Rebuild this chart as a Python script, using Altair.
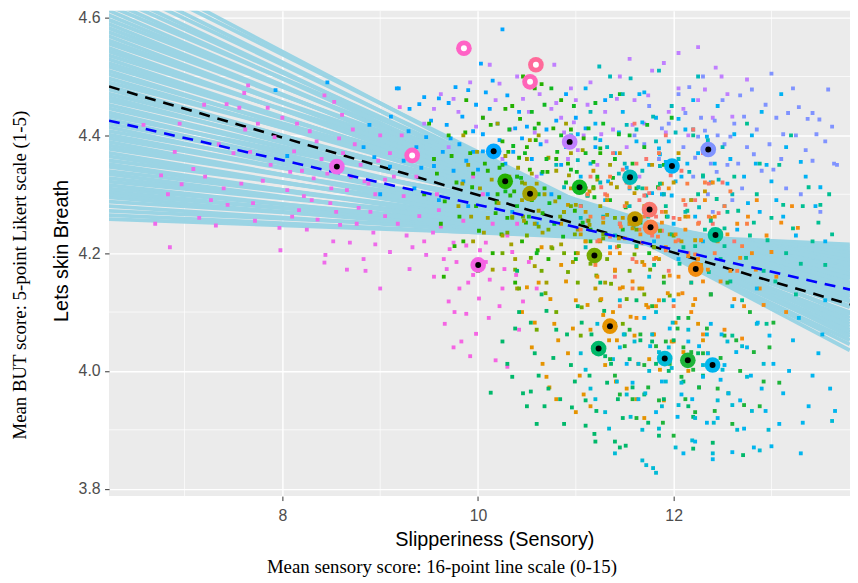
import altair as alt
import pandas as pd

# ---------------- axes ----------------
x_major = [8, 10, 12]
x_minor = [7, 9, 11, 13]
y_major = [3.8, 4.0, 4.2, 4.4, 4.6]
y_minor = [3.9, 4.1, 4.3, 4.5]
x_domain = [6.228, 13.803]
y_domain = [3.7874, 4.6118]

x_title = "Slipperiness (Sensory)"
y_title = "Lets skin Breath"
outer_y_label = ["Mean BUT score: 5-point Likert scale (1-5)"]
outer_x_label = ["Mean sensory score: 16-point line scale (0-15)"]

# ---------------- posterior regression lines (y at left / right ends) ----------------
band_x = [6.2, 13.8]
band_left_y = [4.258, 4.265, 4.272, 4.280, 4.288, 4.295, 4.300, 4.305, 4.310, 4.316,
               4.322, 4.328, 4.335, 4.340, 4.347, 4.352, 4.358, 4.365, 4.371, 4.378,
               4.384, 4.390, 4.396, 4.402, 4.408, 4.415, 4.421, 4.428, 4.434, 4.440,
               4.447, 4.453, 4.460, 4.466, 4.472, 4.479, 4.485, 4.491, 4.498, 4.505,
               4.511, 4.518, 4.524, 4.531, 4.537, 4.544, 4.550, 4.557, 4.563, 4.570,
               4.577, 4.584, 4.591, 4.598, 4.606, 4.614, 4.622, 4.631, 4.640, 4.650,
               4.661, 4.673, 4.686, 4.700]
band_right_y = [4.212, 4.205, 4.215, 4.198, 4.208, 4.190, 4.202, 4.185, 4.196, 4.178,
                4.200, 4.188, 4.170, 4.192, 4.181, 4.165, 4.195, 4.175, 4.160, 4.186,
                4.170, 4.150, 4.178, 4.162, 4.188, 4.145, 4.170, 4.155, 4.182, 4.140,
                4.162, 4.150, 4.172, 4.135, 4.158, 4.145, 4.125, 4.165, 4.138, 4.150,
                4.118, 4.142, 4.128, 4.110, 4.148, 4.120, 4.100, 4.132, 4.108, 4.090,
                4.118, 4.098, 4.080, 4.110, 4.085, 4.070, 4.095, 4.062, 4.075, 4.052,
                4.066, 4.045, 4.058, 4.035]

# ---------------- summary fit lines ----------------
fit_x = [6.228, 13.803]
fit_black_y = [4.483, 4.113]
fit_blue_y = [4.425, 4.138]

# ---------------- group means (rings) ----------------
ring_x = [9.856, 10.592, 10.532, 9.327, 8.557, 10.002, 10.160, 10.937, 12.354, 11.983,
          10.278, 10.532, 11.038, 11.554, 11.754, 11.605, 11.764, 12.428, 11.190, 12.226,
          11.349, 11.233, 11.909, 12.145, 12.398]
ring_y = [4.548, 4.520, 4.491, 4.366, 4.347, 4.180, 4.373, 4.389, 4.376, 4.348,
          4.322, 4.301, 4.312, 4.329, 4.274, 4.258, 4.244, 4.231, 4.196, 4.173,
          4.076, 4.038, 4.021, 4.018, 4.010]
ring_color = ["#FF63C6", "#FF6A9A", "#FF64B8", "#FF62C8", "#EE6AEA", "#F564E3", "#00A5FF",
              "#C07FFF", "#8093FF", "#00B2F3", "#24B000", "#A3A000", "#10B820", "#00B9B9",
              "#F8766D", "#C29A00", "#FA8046", "#00BF92", "#74AA00", "#F28C10", "#E59300",
              "#00B86A", "#00BAD6", "#1EB43A", "#00B5EE"]
ring_center = ["white", "white", "white", "white", "black", "black", "black", "black",
               "black", "black", "black", "black", "black", "black", "black", "black",
               "black", "black", "black", "black", "black", "black", "black", "black", "black"]

# ---------------- individual observations per group ----------------
pts_magL = ("6.58,4.418 6.70,4.250 6.76,4.332 6.83,4.300 6.90,4.372 6.97,4.317 7.09,4.343 7.21,4.330 "
            "7.20,4.452 7.32,4.247 7.27,4.290 7.43,4.453 7.44,4.282 7.56,4.447 7.65,4.485 7.61,4.472 "
            "7.58,4.318 7.67,4.372 7.70,4.285 7.75,4.420 7.80,4.323 7.85,4.447 7.92,4.397 7.97,4.243 "
            "7.98,4.205 8.05,4.307 8.08,4.338 8.12,4.373 8.17,4.273 8.22,4.297 8.28,4.407 8.32,4.327 "
            "8.36,4.257 8.43,4.468 8.44,4.197 8.49,4.285 8.53,4.457 8.59,4.248 8.61,4.435 8.66,4.307 "
            "8.69,4.218 8.74,4.385 8.78,4.277 8.83,4.190 8.88,4.318 8.93,4.235 8.98,4.357 9.05,4.263 "
            "9.10,4.202 9.14,4.330 9.20,4.448 9.24,4.297 9.27,4.230 9.30,4.173 9.37,4.330 9.40,4.263 "
            "9.47,4.197 9.54,4.235 9.60,4.273 9.68,4.173 9.75,4.218 8.40,4.360 8.50,4.310 8.62,4.370 "
            "8.70,4.330 8.80,4.350 8.95,4.300 8.35,4.390 8.72,4.410 8.90,4.270 9.00,4.400 8.55,4.270 "
            "8.20,4.340 9.10,4.370 7.50,4.370 7.40,4.310 6.95,4.420 6.85,4.210 7.15,4.260 8.00,4.430 "
            "7.88,4.350 8.43,4.184 8.66,4.172 8.85,4.170 9.00,4.140 8.25,4.240 8.15,4.420 8.58,4.395 "
            "8.84,4.322 9.18,4.250 9.33,4.210 8.76,4.250 8.46,4.335 8.30,4.290 9.05,4.325 7.35,4.385 "
            "7.72,4.255 8.95,4.215 9.22,4.400 9.45,4.300 8.52,4.220 8.10,4.262 7.62,4.410")
pts_magR = ("9.70,4.118 9.75,4.040 9.81,4.140 9.88,4.097 9.95,4.163 10.01,4.123 10.08,4.218 10.18,4.018 "
            "10.25,4.140 10.30,4.007 10.35,4.202 10.39,4.163 10.46,4.118 9.78,4.185 10.27,4.173 9.88,4.213 "
            "10.08,4.185 9.71,4.207 10.11,4.090 9.98,4.063 9.62,4.245 9.85,4.255 10.15,4.250 10.52,4.185 "
            "10.60,4.140 9.55,4.160 9.92,4.025 10.42,4.070 9.66,4.080 10.20,4.285 9.45,4.220 10.05,4.300 "
            "9.95,4.330 10.30,4.230 9.58,4.300 9.90,4.150 10.12,4.155 9.76,4.100 10.22,4.110 10.02,4.205 "
            "9.65,4.190 10.40,4.250 9.83,4.050")
pts_blue1 = ("10.25,4.580 10.03,4.522 9.19,4.480 9.11,4.432 9.40,4.453 9.45,4.465 9.60,4.463 9.70,4.455 "
             "9.77,4.482 9.90,4.477 9.98,4.452 10.08,4.473 10.15,4.493 10.30,4.468 10.42,4.440 9.47,4.397 "
             "9.29,4.407 9.37,4.380 9.68,4.418 9.81,4.385 9.95,4.407 10.05,4.373 9.24,4.357 9.55,4.348 "
             "9.75,4.340 9.88,4.357 10.40,4.330 10.55,4.360 10.70,4.410 10.85,4.350 11.00,4.430 11.20,4.380 "
             "10.35,4.270 10.60,4.250 10.10,4.300 9.90,4.280 10.90,4.470 11.30,4.460 8.89,4.418 8.94,4.363 "
             "9.10,4.347 9.17,4.480 7.93,4.477 8.46,4.490 8.05,4.365 8.83,4.380 9.00,4.300 9.35,4.310 "
             "10.45,4.395 10.20,4.420 9.60,4.290 10.75,4.300 10.28,4.352 10.05,4.402 10.38,4.412 9.85,4.322 "
             "9.30,4.445 9.52,4.425 9.64,4.372 9.84,4.432 10.00,4.342 10.12,4.445 10.22,4.392 10.36,4.372 "
             "10.50,4.415 10.64,4.385 10.80,4.425 10.96,4.392 11.10,4.412 9.42,4.345 9.72,4.395 9.95,4.372 "
             "10.30,4.315 10.65,4.335")
pts_purple = ("9.45,4.420 9.62,4.470 9.80,4.440 9.92,4.490 10.05,4.430 10.18,4.460 10.33,4.410 10.40,4.500 "
              "10.52,4.440 10.63,4.470 10.70,4.390 10.78,4.520 10.85,4.430 10.92,4.360 11.00,4.460 11.08,4.400 "
              "11.15,4.490 11.22,4.350 11.30,4.440 11.38,4.410 11.45,4.500 11.52,4.380 11.60,4.460 11.70,4.420 "
              "11.78,4.510 11.85,4.370 11.95,4.440 12.05,4.480 12.15,4.400 12.25,4.460 12.40,4.430 12.55,4.470 "
              "10.25,4.360 10.60,4.330 11.10,4.310 10.95,4.480 11.55,4.530 12.25,4.550 12.05,4.540 11.65,4.330 "
              "9.70,4.380 10.12,4.520 11.90,4.523 12.43,4.515 12.49,4.500 10.88,4.405 11.02,4.375 10.80,4.455 "
              "9.55,4.445 9.75,4.462 9.98,4.415 10.22,4.488 10.46,4.462 10.58,4.405 10.75,4.445 10.98,4.422 "
              "11.12,4.452 11.26,4.402 11.42,4.462 11.58,4.418 11.74,4.468 11.92,4.405 12.10,4.445 12.32,4.478 "
              "12.60,4.432 12.75,4.495")
pts_violet = ("11.60,4.400 11.75,4.450 11.85,4.360 11.95,4.420 12.05,4.470 12.16,4.482 12.10,4.380 12.20,4.330 "
              "12.28,4.430 12.35,4.300 12.45,4.400 12.50,4.460 12.55,4.350 12.62,4.420 12.68,4.468 12.70,4.310 "
              "12.75,4.380 12.80,4.478 12.85,4.410 12.90,4.340 12.98,4.385 13.00,4.505 13.05,4.430 13.10,4.360 "
              "13.17,4.438 13.22,4.480 13.25,4.400 13.30,4.300 13.37,4.428 13.42,4.438 13.42,4.357 13.49,4.427 "
              "13.55,4.390 13.58,4.478 13.64,4.352 13.67,4.350 12.40,4.270 12.60,4.290 13.15,4.310 12.30,4.500 "
              "11.90,4.300 13.50,4.270 12.38,4.352 12.25,4.398 12.52,4.385 12.42,4.425 11.70,4.385 11.88,4.412 "
              "12.00,4.348 12.12,4.438 12.22,4.362 12.32,4.408 12.44,4.338 12.58,4.398 12.66,4.352 12.72,4.432 "
              "12.82,4.368 12.94,4.452 13.02,4.342 13.12,4.402 13.28,4.448 13.35,4.375 13.46,4.402 13.62,4.415")
pts_blue2 = ("10.90,4.380 11.05,4.330 11.20,4.420 11.30,4.290 11.40,4.370 11.48,4.440 11.55,4.310 11.62,4.390 "
             "11.70,4.270 11.75,4.350 11.82,4.430 11.88,4.300 11.95,4.390 12.00,4.250 12.08,4.330 12.12,4.410 "
             "12.18,4.290 12.25,4.370 12.30,4.220 12.38,4.320 12.45,4.450 12.52,4.280 12.58,4.360 12.65,4.240 "
             "12.72,4.330 12.80,4.400 12.88,4.270 12.95,4.350 13.05,4.290 13.15,4.380 13.25,4.230 13.35,4.330 "
             "13.45,4.280 13.55,4.220 11.65,4.470 12.20,4.460 12.90,4.440 11.35,4.210 12.05,4.190 13.10,4.470 "
             "11.10,4.480 11.80,4.220 11.70,4.473 11.92,4.355 12.02,4.322 11.85,4.378 11.02,4.402 11.15,4.352 "
             "11.25,4.392 11.33,4.322 11.44,4.405 11.52,4.345 11.60,4.262 11.68,4.422 11.78,4.302 11.86,4.368 "
             "11.98,4.298 12.05,4.428 12.14,4.352 12.22,4.262 12.34,4.398 12.42,4.352 12.55,4.318 12.62,4.402 "
             "12.76,4.285 12.84,4.352 13.00,4.322 13.12,4.262 13.30,4.355 13.50,4.312")
pts_green1 = ("9.45,4.300 9.55,4.360 9.62,4.250 9.70,4.400 9.78,4.320 9.85,4.220 9.92,4.370 9.98,4.280 "
              "10.05,4.430 10.10,4.340 10.15,4.200 10.20,4.300 10.25,4.390 10.30,4.260 10.35,4.450 10.40,4.330 "
              "10.45,4.220 10.50,4.380 10.55,4.290 10.62,4.420 10.68,4.310 10.72,4.190 10.80,4.360 10.88,4.270 "
              "10.95,4.410 11.05,4.320 11.15,4.240 11.25,4.370 9.65,4.160 10.00,4.170 10.38,4.150 10.85,4.460 "
              "9.88,4.460 10.58,4.480 11.00,4.200 9.50,4.420 10.65,4.487 10.46,4.500 10.22,4.345 10.33,4.298 "
              "10.12,4.375 10.42,4.362 9.95,4.335 10.18,4.268 9.58,4.335 9.66,4.288 9.73,4.365 9.81,4.262 "
              "9.87,4.405 9.94,4.312 10.01,4.238 10.07,4.352 10.13,4.418 10.19,4.286 10.24,4.232 10.31,4.372 "
              "10.37,4.305 10.43,4.428 10.49,4.252 10.53,4.342 10.59,4.392 10.66,4.268 10.71,4.338 10.77,4.412 "
              "10.83,4.295 10.92,4.352 10.99,4.272 11.08,4.395 11.18,4.312 9.76,4.212 10.28,4.445 10.61,4.205")
pts_olive = ("9.80,4.280 9.90,4.350 9.95,4.220 10.02,4.310 10.10,4.260 10.18,4.380 10.25,4.230 10.32,4.330 "
             "10.38,4.190 10.45,4.290 10.50,4.360 10.58,4.250 10.62,4.400 10.68,4.300 10.75,4.210 10.80,4.340 "
             "10.88,4.270 10.95,4.370 11.02,4.240 11.10,4.310 11.18,4.200 11.25,4.280 11.35,4.350 11.45,4.250 "
             "10.40,4.140 10.70,4.150 10.90,4.420 10.20,4.420 9.85,4.400 11.30,4.150 10.48,4.318 10.62,4.272 "
             "10.55,4.335 10.35,4.262 9.84,4.318 9.93,4.262 9.99,4.372 10.06,4.235 10.14,4.325 10.21,4.285 "
             "10.28,4.365 10.34,4.215 10.41,4.345 10.47,4.255 10.53,4.392 10.60,4.318 10.66,4.235 10.72,4.362 "
             "10.79,4.288 10.85,4.215 10.93,4.332 11.00,4.282 11.07,4.375 11.14,4.248 11.22,4.325 11.32,4.265 "
             "11.42,4.312 10.15,4.172 10.58,4.178 10.97,4.185")
pts_green2 = ("10.25,4.350 10.32,4.410 10.40,4.280 10.48,4.370 10.55,4.440 10.62,4.300 10.70,4.360 10.78,4.250 "
              "10.85,4.400 10.90,4.320 10.98,4.450 11.05,4.280 11.10,4.370 11.15,4.220 11.22,4.330 11.28,4.420 "
              "11.35,4.290 11.40,4.360 11.48,4.240 11.55,4.400 11.62,4.310 11.70,4.380 11.80,4.270 11.90,4.350 "
              "11.98,4.430 10.60,4.200 11.00,4.190 11.45,4.470 10.75,4.480 11.75,4.200 11.12,4.298 10.95,4.342 "
              "11.18,4.355 10.28,4.305 10.36,4.382 10.44,4.328 10.52,4.262 10.58,4.412 10.66,4.338 10.73,4.285 "
              "10.81,4.372 10.87,4.228 10.94,4.392 11.01,4.338 11.07,4.252 11.13,4.412 11.19,4.295 11.25,4.378 "
              "11.31,4.232 11.38,4.328 11.44,4.402 11.51,4.278 11.58,4.352 11.66,4.252 11.73,4.418 11.84,4.312 "
              "11.93,4.262 10.68,4.452 11.20,4.455")
pts_teal = ("10.80,4.350 10.95,4.400 11.05,4.260 11.15,4.440 11.25,4.320 11.32,4.380 11.40,4.230 11.48,4.470 "
            "11.55,4.280 11.62,4.410 11.68,4.340 11.75,4.250 11.82,4.390 11.90,4.300 11.98,4.450 12.05,4.360 "
            "12.12,4.270 12.20,4.410 12.30,4.330 12.40,4.240 12.50,4.380 12.60,4.300 11.35,4.500 11.85,4.510 "
            "11.10,4.210 12.25,4.500 11.24,4.517 11.56,4.497 11.36,4.467 11.50,4.352 11.64,4.312 10.88,4.312 "
            "11.02,4.358 11.12,4.298 11.20,4.395 11.28,4.262 11.44,4.335 11.52,4.418 11.59,4.245 11.72,4.298 "
            "11.79,4.432 11.86,4.348 11.94,4.262 12.02,4.405 12.16,4.338 12.26,4.278 12.35,4.392 12.46,4.325")
pts_salmon = ("11.05,4.280 11.15,4.330 11.22,4.220 11.30,4.300 11.38,4.370 11.45,4.250 11.52,4.320 11.58,4.190 "
              "11.65,4.290 11.72,4.360 11.78,4.230 11.85,4.310 11.92,4.400 12.00,4.260 12.08,4.340 12.15,4.200 "
              "12.22,4.290 12.30,4.370 12.40,4.250 12.50,4.320 12.62,4.220 11.40,4.160 11.95,4.170 12.20,4.410 "
              "11.60,4.420 11.82,4.262 11.70,4.298 11.12,4.255 11.26,4.312 11.35,4.228 11.48,4.342 11.55,4.262 "
              "11.62,4.352 11.68,4.218 11.75,4.302 11.88,4.238 11.97,4.332 12.05,4.222 12.12,4.282 12.26,4.252 "
              "12.36,4.318 12.46,4.268")
pts_gold = ("10.85,4.250 10.95,4.310 11.02,4.200 11.10,4.270 11.18,4.340 11.25,4.220 11.32,4.290 11.40,4.170 "
            "11.48,4.260 11.55,4.330 11.62,4.210 11.70,4.280 11.78,4.350 11.85,4.190 11.92,4.270 12.00,4.320 "
            "12.08,4.220 12.18,4.290 12.28,4.180 12.38,4.260 11.20,4.140 11.65,4.140 11.45,4.370 12.05,4.370 "
            "11.58,4.242 11.52,4.285 10.92,4.282 11.05,4.232 11.14,4.305 11.28,4.252 11.36,4.318 11.44,4.225 "
            "11.60,4.302 11.68,4.185 11.75,4.252 11.88,4.318 11.96,4.232 12.12,4.262 12.22,4.222 12.32,4.305")
pts_orangered = ("11.05,4.240 11.12,4.300 11.20,4.180 11.28,4.260 11.35,4.330 11.42,4.210 11.50,4.280 11.58,4.140 "
                 "11.65,4.240 11.72,4.310 11.80,4.190 11.88,4.270 11.95,4.350 12.02,4.220 12.10,4.290 12.18,4.150 "
                 "12.25,4.250 12.32,4.320 12.42,4.200 12.52,4.280 12.65,4.170 12.75,4.250 11.45,4.110 12.00,4.110 "
                 "11.85,4.370 11.84,4.228 11.70,4.262 11.15,4.262 11.24,4.222 11.32,4.298 11.46,4.245 11.55,4.312 "
                 "11.62,4.185 11.76,4.272 11.92,4.205 12.06,4.258 12.14,4.318 12.22,4.198 12.36,4.262 12.48,4.235 "
                 "12.58,4.305 12.70,4.212")
pts_tealgreen = ("11.55,4.250 11.68,4.310 11.80,4.180 11.92,4.280 12.02,4.350 12.10,4.210 12.18,4.150 12.25,4.300 "
                 "12.32,4.240 12.40,4.380 12.48,4.190 12.55,4.270 12.62,4.330 12.70,4.120 12.78,4.230 12.85,4.300 "
                 "12.92,4.170 13.00,4.260 13.08,4.350 13.15,4.200 13.25,4.130 13.32,4.280 13.42,4.220 13.55,4.180 "
                 "12.60,4.060 12.95,4.080 12.20,4.400 13.20,4.400 11.90,4.120 12.75,4.420 13.59,4.300 13.50,4.282 "
                 "12.38,4.255 12.52,4.212 11.62,4.212 11.74,4.262 11.86,4.318 11.98,4.232 12.06,4.182 12.14,4.272 "
                 "12.22,4.212 12.30,4.332 12.36,4.168 12.44,4.292 12.52,4.242 12.58,4.152 12.66,4.272 12.74,4.192 "
                 "12.82,4.252 12.88,4.352 12.96,4.222 13.04,4.152 13.12,4.282 13.22,4.242 13.30,4.182 13.38,4.312 "
                 "13.48,4.252 13.62,4.232")
pts_ygreen = ("10.25,4.200 10.35,4.260 10.42,4.140 10.50,4.230 10.58,4.300 10.65,4.170 10.72,4.240 10.80,4.100 "
              "10.88,4.200 10.95,4.280 11.02,4.150 11.10,4.220 11.18,4.310 11.25,4.120 11.32,4.190 11.40,4.260 "
              "11.48,4.080 11.55,4.170 11.62,4.240 11.70,4.130 11.80,4.210 11.90,4.160 12.00,4.230 10.60,4.070 "
              "11.05,4.060 10.45,4.320 11.15,4.182 11.28,4.225 10.30,4.235 10.38,4.172 10.46,4.262 10.54,4.192 "
              "10.62,4.245 10.69,4.132 10.76,4.208 10.84,4.262 10.92,4.168 10.99,4.232 11.06,4.108 11.13,4.255 "
              "11.21,4.162 11.28,4.232 11.36,4.148 11.44,4.212 11.52,4.122 11.60,4.198 11.66,4.262 11.76,4.172 "
              "11.86,4.238 11.96,4.128")
pts_orange1 = ("11.35,4.200 11.45,4.140 11.55,4.250 11.62,4.090 11.70,4.180 11.78,4.270 11.85,4.120 11.92,4.210 "
               "12.00,4.050 12.05,4.160 12.12,4.240 12.18,4.100 12.25,4.190 12.32,4.290 12.38,4.130 12.45,4.220 "
               "12.52,4.070 12.58,4.170 12.65,4.250 12.72,4.110 12.80,4.200 12.88,4.140 12.95,4.230 13.05,4.160 "
               "13.15,4.100 12.40,4.320 11.95,4.310 12.85,4.290 13.21,4.280 13.27,4.243 12.30,4.152 12.15,4.195 "
               "11.40,4.172 11.50,4.225 11.58,4.152 11.66,4.232 11.74,4.108 11.82,4.192 11.88,4.252 11.96,4.162 "
               "12.02,4.232 12.09,4.132 12.15,4.262 12.22,4.122 12.28,4.222 12.35,4.172 12.42,4.262 12.48,4.152 "
               "12.55,4.232 12.62,4.122 12.68,4.192 12.76,4.262 12.84,4.172 12.92,4.112 13.00,4.202 13.10,4.252 "
               "12.30,4.062 11.80,4.062 12.70,4.055")
pts_orange2 = ("10.45,4.100 10.55,4.040 10.62,4.150 10.70,3.990 10.78,4.080 10.85,4.180 10.92,4.030 11.00,4.120 "
               "11.08,3.960 11.15,4.070 11.22,4.160 11.30,4.010 11.38,4.100 11.45,4.200 11.52,3.970 11.60,4.060 "
               "11.68,4.140 11.75,4.020 11.82,4.110 11.90,3.950 11.98,4.050 12.05,4.130 12.15,4.000 12.25,4.080 "
               "12.35,4.030 10.65,4.210 11.10,4.220 11.70,3.920 11.00,3.930 10.73,3.972 11.15,3.940 11.42,4.052 "
               "11.28,4.095 10.50,4.142 10.58,4.082 10.66,4.012 10.74,4.122 10.82,4.052 10.90,4.152 10.97,4.072 "
               "11.04,3.992 11.12,4.112 11.19,4.032 11.26,4.122 11.34,4.052 11.41,3.982 11.48,4.142 11.56,4.092 "
               "11.64,4.012 11.72,4.112 11.79,4.062 11.86,4.002 11.94,4.132 12.02,4.082 12.10,4.032 12.20,4.112 "
               "12.30,4.052 10.80,3.952 11.62,3.952")
pts_green3 = ("10.25,4.050 10.35,3.990 10.42,4.100 10.50,3.940 10.58,4.030 10.65,4.130 10.72,3.970 10.80,4.070 "
              "10.88,3.910 10.95,4.010 11.02,4.110 11.10,3.950 11.18,4.040 11.25,4.150 11.32,3.980 11.40,4.080 "
              "11.48,3.920 11.55,4.020 11.62,4.120 11.70,3.960 11.78,4.050 11.85,3.890 11.95,4.000 12.05,4.090 "
              "12.15,3.940 12.25,4.030 10.60,3.910 11.20,3.880 10.40,4.170 11.45,3.870 10.13,3.963 10.54,3.965 "
              "10.68,3.940 10.96,3.938 11.10,3.907 11.19,3.893 11.40,3.880 11.51,3.873 12.20,3.868 12.40,3.878 "
              "12.71,3.857 11.30,4.025 11.16,4.062 10.30,4.012 10.38,4.072 10.46,3.962 10.54,4.082 10.62,3.992 "
              "10.70,4.102 10.77,4.022 10.84,3.952 10.91,4.062 10.99,3.982 11.06,4.082 11.14,3.992 11.21,3.932 "
              "11.29,4.102 11.36,4.012 11.43,3.952 11.50,4.062 11.58,3.972 11.66,4.052 11.74,3.912 11.82,4.012 "
              "11.90,3.952 12.00,4.052 12.10,3.982 12.20,3.922 12.30,3.992")
pts_cyan1 = ("11.05,4.030 11.15,3.970 11.22,4.080 11.30,3.930 11.38,4.020 11.45,4.120 11.52,3.960 11.60,4.050 "
             "11.68,3.900 11.75,4.000 11.82,4.100 11.88,3.940 11.95,4.040 12.02,3.870 12.08,3.980 12.15,4.070 "
             "12.22,3.920 12.30,4.010 12.38,4.130 12.45,3.950 12.55,4.050 12.65,3.900 12.75,3.990 12.85,4.080 "
             "11.40,3.860 11.75,4.160 12.40,3.860 11.72,3.840 11.68,3.848 11.79,3.835 11.82,3.827 12.88,3.865 "
             "13.62,3.915 12.97,3.900 11.98,4.005 11.85,4.032 11.10,4.002 11.20,3.952 11.27,4.042 11.34,3.902 "
             "11.42,3.982 11.49,4.062 11.56,3.922 11.64,4.012 11.71,3.962 11.78,4.062 11.85,3.902 11.92,3.982 "
             "11.99,4.082 12.05,3.942 12.12,4.022 12.19,3.882 12.26,3.972 12.34,4.062 12.41,3.912 12.50,4.002 "
             "12.60,3.942 12.70,4.042 12.80,3.932 12.92,4.012")
pts_green4 = ("11.35,4.020 11.45,3.960 11.55,4.070 11.62,3.920 11.70,4.010 11.78,4.110 11.85,3.950 11.92,4.050 "
              "12.00,3.890 12.08,3.990 12.15,4.090 12.22,3.930 12.30,4.030 12.38,4.130 12.45,3.970 12.52,4.060 "
              "12.60,3.910 12.68,4.000 12.78,4.100 12.88,3.940 12.98,4.040 13.08,3.980 11.90,4.150 12.55,4.150 "
              "12.20,4.002 12.10,4.040 11.40,3.992 11.50,4.042 11.58,3.952 11.66,4.062 11.74,3.972 11.82,4.042 "
              "11.89,3.912 11.96,4.012 12.04,4.072 12.12,3.952 12.18,4.032 12.26,3.972 12.34,4.072 12.42,3.932 "
              "12.48,4.022 12.56,3.962 12.64,4.052 12.72,3.942 12.82,4.032 12.92,3.982 13.02,4.082")
pts_cyan2 = ("11.45,4.040 11.58,3.980 11.70,4.090 11.82,3.930 11.92,4.020 12.00,4.120 12.08,3.960 12.15,4.050 "
             "12.22,3.880 12.30,3.990 12.38,4.080 12.45,3.920 12.52,4.010 12.60,4.110 12.68,3.950 12.75,4.040 "
             "12.82,3.870 12.90,3.970 12.98,4.060 13.08,3.910 13.18,4.000 13.28,4.090 13.38,3.940 13.48,4.030 "
             "13.60,3.970 12.40,3.850 12.85,4.140 13.55,4.120 12.10,3.860 13.30,3.860 12.35,4.030 12.48,3.985 "
             "11.52,4.012 11.64,3.952 11.76,4.042 11.88,3.982 11.96,4.072 12.04,3.922 12.12,4.012 12.19,3.952 "
             "12.26,4.042 12.34,3.912 12.42,4.002 12.49,4.062 12.56,3.962 12.64,4.032 12.72,3.902 12.79,3.992 "
             "12.86,4.082 12.94,3.932 13.02,4.012 13.12,3.962 13.22,4.052 13.32,3.912 13.42,3.992 13.52,4.062 "
             "13.65,3.932 12.60,3.862 13.00,3.872")

group_points = [pts_magL, pts_magR, pts_blue1, pts_purple, pts_violet, pts_blue2, pts_green1,
                pts_olive, pts_green2, pts_teal, pts_salmon, pts_gold, pts_orangered,
                pts_tealgreen, pts_ygreen, pts_orange1, pts_orange2, pts_green3, pts_cyan1,
                pts_green4, pts_cyan2]
group_colors = ["#EE6AEA", "#F564E3", "#00A5FF", "#C07FFF", "#8093FF", "#00B2F3", "#24B000",
                "#A3A000", "#10B820", "#00B9B9", "#F8766D", "#C29A00", "#FA8046",
                "#00BF92", "#74AA00", "#F28C10", "#E59300", "#00B86A", "#00BAD6",
                "#1EB43A", "#00B5EE"]

# ---------------- build tables ----------------
rows = []
for s, c in zip(group_points, group_colors):
    for tok in s.split():
        a, b = tok.split(",")
        rows.append({"x": float(a), "y": float(b), "c": c})
df_pts = pd.DataFrame(rows)

band_rows = []
for i, (l, r) in enumerate(zip(band_left_y, band_right_y)):
    band_rows.append({"id": i, "x": band_x[0], "y": l})
    band_rows.append({"id": i, "x": band_x[1], "y": r})
df_band = pd.DataFrame(band_rows)

df_black = pd.DataFrame({"x": fit_x, "y": fit_black_y})
df_blue = pd.DataFrame({"x": fit_x, "y": fit_blue_y})
df_rings = pd.DataFrame({"x": ring_x, "y": ring_y, "c": ring_color, "cc": ring_center})
df_xminor = pd.DataFrame({"x": x_minor})
df_yminor = pd.DataFrame({"y": y_minor})

xs = alt.Scale(domain=x_domain, nice=False, zero=False)
ys = alt.Scale(domain=y_domain, nice=False, zero=False)

axis_common = dict(grid=True, gridColor="white", gridWidth=1.4, domain=False,
                   tickColor="#333333", tickSize=4.5, tickWidth=1,
                   labelFont="Liberation Sans", labelFontSize=16, labelColor="#4D4D4D",
                   titleFont="Liberation Sans", titleFontSize=20, titleFontWeight="normal",
                   titleColor="black")
x_axis = alt.Axis(values=x_major, title=x_title, labelPadding=7, titleX=389, titleY=44,
                  titleBaseline="middle", **axis_common)
y_axis = alt.Axis(values=y_major, format=".1f", title=y_title, labelPadding=4.5,
                  titleAngle=270, titleX=-48, titleY=242, titleAlign="center",
                  titleBaseline="middle", **axis_common)


def X():
    return alt.X("x:Q", scale=xs, axis=x_axis)


def Y():
    return alt.Y("y:Q", scale=ys, axis=y_axis)


minor_v = alt.Chart(df_xminor).mark_rule(color="white", strokeWidth=0.7).encode(x=X())
minor_h = alt.Chart(df_yminor).mark_rule(color="white", strokeWidth=0.7).encode(y=Y())

band = alt.Chart(df_band).mark_line(color="#9BD4E4", strokeWidth=3.8, opacity=1,
                                    clip=True).encode(x=X(), y=Y(), detail="id:N")

black_line = alt.Chart(df_black).mark_line(color="black", strokeWidth=2.6, strokeDash=[11, 8],
                                           clip=True).encode(x=X(), y=Y())

points = alt.Chart(df_pts).mark_square(size=15, opacity=1, clip=True).encode(
    x=X(), y=Y(), color=alt.Color("c:N", scale=None))

blue_line = alt.Chart(df_blue).mark_line(color="#0000FF", strokeWidth=2.6, strokeDash=[11, 8],
                                         clip=True).encode(x=X(), y=Y())

ring_outer = alt.Chart(df_rings).mark_circle(size=250, opacity=1).encode(
    x=X(), y=Y(), color=alt.Color("c:N", scale=None))
ring_inner = alt.Chart(df_rings).mark_circle(size=36, opacity=1).encode(
    x=X(), y=Y(), color=alt.Color("cc:N", scale=None))

txt_y = alt.Chart(pd.DataFrame({"t": outer_y_label})).mark_text(
    font="Liberation Serif", fontSize=19, angle=270, align="center", baseline="middle",
    color="black").encode(x=alt.value(-90), y=alt.value(267), text="t:N")
txt_x = alt.Chart(pd.DataFrame({"t": outer_x_label})).mark_text(
    font="Liberation Serif", fontSize=19, align="center", baseline="middle",
    color="black").encode(x=alt.value(336), y=alt.value(562), text="t:N")

chart = alt.layer(minor_v, minor_h, band, black_line, points, blue_line, ring_outer, ring_inner,
                  txt_y, txt_x).properties(
    width=748, height=490,
    autosize=alt.AutoSizeParams(type="none"),
    padding={"left": 102, "top": 0, "right": 0, "bottom": 85},
    background="white",
).configure_view(fill="#EBEBEB", strokeWidth=0)

chart.save("out.html", embed_options={"renderer": "svg", "actions": False})
